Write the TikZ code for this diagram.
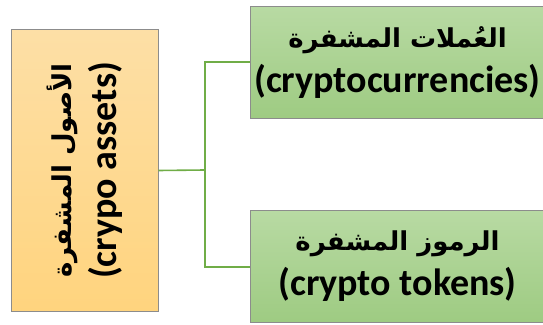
\documentclass[tikz,border=0pt]{standalone}
\usepackage{fontspec}
\setmainfont{Carlito}[BoldFont={Carlito Bold}]
\newfontfamily\arabicfont[Script=Arabic]{DejaVu Sans Bold}
\TeXXeTstate=1
\definecolor{orangetop}{HTML}{FDDFA6}
\definecolor{orangebot}{HTML}{FFD47E}
\definecolor{greentop}{HTML}{B8DAA3}
\definecolor{greenbot}{HTML}{9ECB82}
\definecolor{edgegray}{HTML}{8C8C8C}
\definecolor{linkgreen}{HTML}{70AD47}
\newcommand{\artext}[1]{{\arabicfont\fontsize{26}{32}\selectfont\beginR #1\endR}}
\tikzset{
  % upright box, text turned a quarter turn
  mainbox/.style={draw=edgegray, line width=1pt, rotate=90, top color=orangetop, bottom color=orangebot,
    minimum width=281pt, minimum height=147pt, inner sep=0pt, align=center,
    font=\bfseries\fontsize{38}{45}\selectfont},
  subbox/.style={draw=edgegray, line width=1pt, top color=greentop, bottom color=greenbot,
    minimum width=295pt, minimum height=112pt, inner sep=0pt, align=center,
    font=\bfseries\fontsize{38}{45}\selectfont},
  link/.style={draw=linkgreen, line width=1.6pt},
}
\begin{document}
\begin{tikzpicture}[x=1pt,y=1pt]
\useasboundingbox (0,0) rectangle (543,324);
\fill[white] (0,0) rectangle (543,324);
% left box: crypto assets
\node[mainbox] (assets) at (84.5,153.5) {\artext{الأصول المشفرة}\\(crypo assets)};
% right boxes
\node[subbox] (coins) at (397.5,261.5) {\artext{العُملات المشفرة}\\(cryptocurrencies)};
\node[subbox] (tokens) at (397.5,57.5) {\artext{الرموز المشفرة}\\(crypto tokens)};
% connectors (the rotated box's south side faces right)
\coordinate (split) at (205,154);
\draw[link] (assets.south) -- (split);
\draw[link] (coins.west |- 0,262) -| (split) |- (tokens.west |- 0,57);
\end{tikzpicture}
\end{document}
